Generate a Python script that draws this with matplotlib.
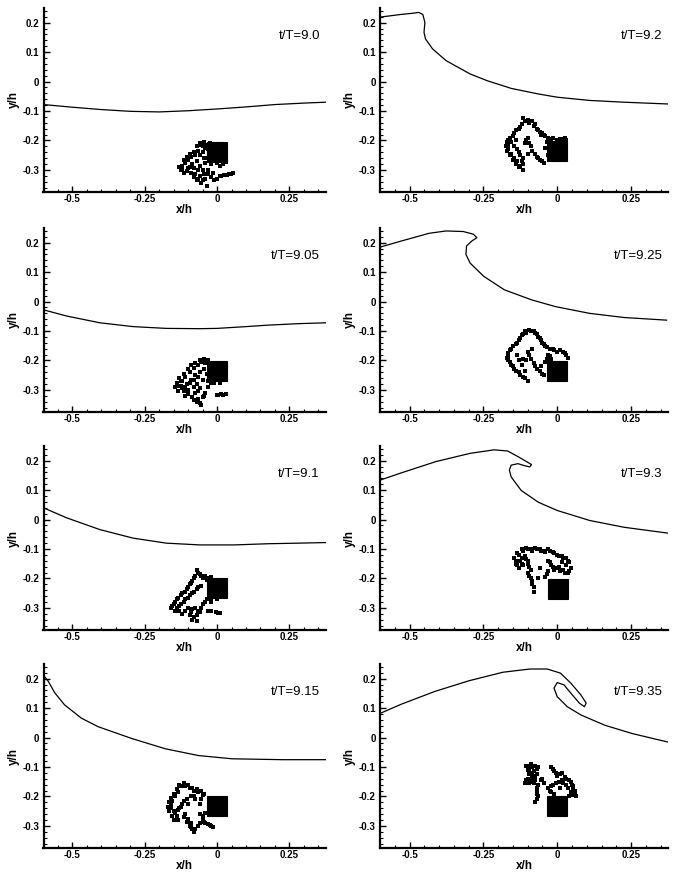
import matplotlib
matplotlib.use("Agg")
import matplotlib.pyplot as plt
from matplotlib.patches import Rectangle
from matplotlib.ticker import MultipleLocator, FuncFormatter

plt.rcParams['font.family'] = ['Liberation Sans', 'DejaVu Sans']

# time labels, in plotting order (left column top->bottom, then right column)
times = ["t/T=9.0", "t/T=9.05", "t/T=9.1", "t/T=9.15",
         "t/T=9.2", "t/T=9.25", "t/T=9.3", "t/T=9.35"]

# free surface
surf_x_900 = [-0.6, -0.5, -0.4, -0.3, -0.2, -0.1, 0.0, 0.1, 0.2, 0.3, 0.375]
surf_y_900 = [-0.078, -0.087, -0.095, -0.101, -0.103, -0.099, -0.093, -0.086, -0.078, -0.073, -0.070]

surf_x_905 = [-0.6, -0.52, -0.405, -0.29, -0.175, -0.06, 0.0, 0.1, 0.175, 0.28, 0.375]
surf_y_905 = [-0.028, -0.049, -0.072, -0.085, -0.091, -0.092, -0.091, -0.085, -0.080, -0.075, -0.072]

surf_x_910 = [-0.6, -0.52, -0.405, -0.29, -0.175, -0.06, 0.06, 0.175, 0.28, 0.375]
surf_y_910 = [0.040, 0.006, -0.034, -0.063, -0.080, -0.086, -0.086, -0.082, -0.080, -0.078]

surf_x_915 = [-0.598, -0.584, -0.561, -0.527, -0.469, -0.411, -0.295, -0.179, -0.064, 0.052, 0.226, 0.375]
surf_y_915 = [0.209, 0.192, 0.152, 0.111, 0.066, 0.037, -0.003, -0.038, -0.061, -0.072, -0.075, -0.075]

surf_x_920 = [-0.6, -0.53, -0.49, -0.469, -0.455, -0.448, -0.451, -0.446, -0.422, -0.376,
              -0.295, -0.237, -0.156, -0.064, 0.0, 0.11, 0.226, 0.375]
surf_y_920 = [0.219, 0.228, 0.232, 0.235, 0.228, 0.201, 0.167, 0.145, 0.111, 0.071,
              0.026, 0.003, -0.023, -0.042, -0.053, -0.064, -0.070, -0.076]

surf_x_925 = [-0.6, -0.527, -0.434, -0.376, -0.318, -0.284, -0.272, -0.289, -0.307, -0.309,
              -0.295, -0.249, -0.179, -0.087, -0.006, 0.11, 0.226, 0.37]
surf_y_925 = [0.185, 0.206, 0.232, 0.240, 0.238, 0.229, 0.217, 0.206, 0.189, 0.160,
              0.131, 0.086, 0.040, 0.006, -0.017, -0.040, -0.054, -0.063]

surf_x_930 = [-0.6, -0.527, -0.411, -0.295, -0.214, -0.168, -0.133, -0.104, -0.087, -0.093,
              -0.110, -0.133, -0.156, -0.162, -0.156, -0.122, -0.064, 0.0, 0.11, 0.226, 0.375]
surf_y_930 = [0.134, 0.159, 0.197, 0.225, 0.237, 0.233, 0.214, 0.197, 0.187, 0.179,
              0.183, 0.190, 0.185, 0.168, 0.145, 0.099, 0.059, 0.031, -0.003, -0.026, -0.046]

surf_x_935 = [-0.6, -0.529, -0.414, -0.299, -0.184, -0.092, -0.034, 0.011, 0.046, 0.080,
              0.098, 0.092, 0.075, 0.046, 0.023, 0.0, -0.011, 0.0, 0.034, 0.080, 0.161, 0.253, 0.374]
surf_y_935 = [0.082, 0.113, 0.157, 0.193, 0.222, 0.233, 0.233, 0.219, 0.185, 0.145,
              0.117, 0.105, 0.117, 0.151, 0.179, 0.187, 0.168, 0.139, 0.105, 0.077, 0.042, 0.014, -0.015]

surf_x = [surf_x_900, surf_x_905, surf_x_910, surf_x_915, surf_x_920, surf_x_925, surf_x_930, surf_x_935]
surf_y = [surf_y_900, surf_y_905, surf_y_910, surf_y_915, surf_y_920, surf_y_925, surf_y_930, surf_y_935]

# cylinder block (center) per panel
block_x = [0.0, 0.0, 0.0, 0.0, 0.0, 0.0, 0.003, 0.0]
block_y = [-0.238, -0.236, -0.232, -0.232, -0.235, -0.235, -0.235, -0.232]
block_half = 0.034

# particle clouds
part_900 = [(-0.06,-0.21),(-0.05,-0.22),(-0.045,-0.205),(-0.035,-0.215),(-0.03,-0.23),(-0.05,-0.24),
            (-0.065,-0.235),(-0.075,-0.25),(-0.09,-0.255),(-0.1,-0.265),(-0.11,-0.275),(-0.12,-0.285),
            (-0.125,-0.3),(-0.115,-0.31),(-0.1,-0.295),(-0.085,-0.28),(-0.07,-0.27),(-0.06,-0.285),
            (-0.05,-0.3),(-0.06,-0.32),(-0.07,-0.335),(-0.055,-0.345),(-0.04,-0.33),(-0.03,-0.315),
            (-0.02,-0.325),(-0.01,-0.335),(-0.09,-0.31),(-0.08,-0.325),(-0.04,-0.275),(-0.02,-0.28),
            (0.0,-0.275),(0.02,-0.28),(0.01,-0.32),(0.025,-0.318),(0.04,-0.315),(0.055,-0.312),(-0.035,-0.355),
            (-0.055,-0.215),(-0.04,-0.225),(-0.025,-0.21),(-0.07,-0.22),(-0.08,-0.24),(-0.095,-0.245),
            (-0.105,-0.255),(-0.115,-0.265),(-0.13,-0.29),(-0.12,-0.3),(-0.105,-0.305),(-0.095,-0.29),
            (-0.08,-0.295),(-0.065,-0.3),(-0.075,-0.315),(-0.065,-0.33),(-0.05,-0.335),(-0.045,-0.315),
            (-0.03,-0.3),(-0.015,-0.31),(0.0,-0.33),(-0.045,-0.26),(-0.03,-0.26),(0.01,-0.285),
            (0.03,-0.272),(0.035,-0.316),(0.048,-0.313),(0.015,-0.322),(-0.06,-0.25)]
part_905 = [(-0.06,-0.2),(-0.045,-0.195),(-0.03,-0.2),(-0.075,-0.21),(-0.09,-0.215),(-0.1,-0.23),
            (-0.115,-0.245),(-0.13,-0.26),(-0.14,-0.275),(-0.145,-0.29),(-0.135,-0.305),(-0.12,-0.295),
            (-0.105,-0.28),(-0.09,-0.265),(-0.075,-0.25),(-0.06,-0.24),(-0.045,-0.23),(-0.07,-0.28),
            (-0.06,-0.295),(-0.075,-0.31),(-0.085,-0.325),(-0.07,-0.34),(-0.055,-0.35),(-0.05,-0.325),
            (-0.04,-0.31),(-0.1,-0.3),(-0.11,-0.32),(-0.03,-0.27),(-0.01,-0.275),(0.01,-0.275),
            (0.0,-0.318),(0.015,-0.315),(0.03,-0.315),(-0.12,-0.27),
            (-0.055,-0.205),(-0.04,-0.21),(-0.065,-0.215),(-0.08,-0.225),(-0.095,-0.24),(-0.11,-0.255),
            (-0.125,-0.27),(-0.135,-0.285),(-0.125,-0.285),(-0.11,-0.29),(-0.095,-0.275),(-0.08,-0.265),
            (-0.065,-0.255),(-0.08,-0.29),(-0.065,-0.305),(-0.08,-0.335),(-0.065,-0.33),(-0.06,-0.345),
            (-0.045,-0.32),(-0.03,-0.29),(-0.02,-0.275),(-0.115,-0.305),(-0.1,-0.315),(0.005,-0.317),
            (0.022,-0.316),(-0.05,-0.265),(-0.035,-0.245)]
part_910 = [(-0.07,-0.17),(-0.06,-0.185),(-0.05,-0.2),(-0.04,-0.19),(-0.03,-0.2),(-0.02,-0.195),
            (-0.08,-0.2),(-0.09,-0.215),(-0.1,-0.23),(-0.11,-0.245),(-0.125,-0.255),(-0.14,-0.27),
            (-0.15,-0.285),(-0.16,-0.3),(-0.145,-0.31),(-0.13,-0.295),(-0.115,-0.28),(-0.1,-0.265),
            (-0.085,-0.25),(-0.07,-0.235),(-0.055,-0.225),(-0.1,-0.3),(-0.09,-0.315),(-0.08,-0.33),
            (-0.07,-0.345),(-0.075,-0.3),(-0.06,-0.315),(-0.05,-0.285),(-0.035,-0.27),(-0.02,-0.265),
            (0.0,-0.27),(-0.02,-0.31),(-0.005,-0.315),(0.01,-0.318),(-0.12,-0.32),
            (-0.065,-0.18),(-0.055,-0.19),(-0.045,-0.2),(-0.075,-0.19),(-0.085,-0.21),(-0.095,-0.22),
            (-0.105,-0.235),(-0.12,-0.25),(-0.135,-0.265),(-0.145,-0.28),(-0.155,-0.295),(-0.14,-0.3),
            (-0.125,-0.285),(-0.11,-0.27),(-0.095,-0.255),(-0.08,-0.245),(-0.065,-0.23),(-0.11,-0.31),
            (-0.095,-0.325),(-0.085,-0.34),(-0.07,-0.325),(-0.065,-0.31),(-0.085,-0.305),(-0.055,-0.3),
            (-0.04,-0.28),(-0.03,-0.31),(0.005,-0.317),(-0.02,-0.28),(-0.13,-0.31),(-0.035,-0.205)]
part_915 = [(-0.13,-0.16),(-0.115,-0.155),(-0.1,-0.16),(-0.085,-0.17),(-0.07,-0.175),(-0.055,-0.18),
            (-0.045,-0.19),(-0.14,-0.175),(-0.15,-0.19),(-0.16,-0.205),(-0.165,-0.22),(-0.17,-0.235),
            (-0.165,-0.25),(-0.155,-0.265),(-0.145,-0.255),(-0.13,-0.24),(-0.12,-0.225),(-0.105,-0.21),
            (-0.09,-0.2),(-0.075,-0.21),(-0.06,-0.225),(-0.11,-0.26),(-0.1,-0.275),(-0.09,-0.29),
            (-0.085,-0.31),(-0.08,-0.32),(-0.065,-0.3),(-0.05,-0.28),(-0.04,-0.29),(-0.03,-0.295),
            (-0.02,-0.3),(-0.06,-0.26),(-0.04,-0.255),(-0.135,-0.28),
            (-0.125,-0.165),(-0.11,-0.165),(-0.095,-0.17),(-0.08,-0.18),(-0.065,-0.185),(-0.05,-0.195),
            (-0.135,-0.185),(-0.145,-0.2),(-0.155,-0.215),(-0.16,-0.23),(-0.16,-0.24),(-0.15,-0.25),
            (-0.14,-0.265),(-0.135,-0.245),(-0.125,-0.235),(-0.115,-0.215),(-0.1,-0.225),(-0.115,-0.27),
            (-0.105,-0.285),(-0.095,-0.3),(-0.09,-0.305),(-0.075,-0.31),(-0.06,-0.29),(-0.045,-0.285),
            (-0.025,-0.298),(-0.015,-0.302),(-0.05,-0.265),(-0.15,-0.28),(-0.08,-0.2),(-0.055,-0.21)]
part_920 = [(-0.115,-0.125),(-0.1,-0.13),(-0.085,-0.135),(-0.075,-0.145),(-0.07,-0.16),(-0.06,-0.17),
            (-0.05,-0.175),(-0.04,-0.185),(-0.03,-0.19),(-0.015,-0.19),(0.0,-0.2),(0.02,-0.195),
            (0.03,-0.2),(-0.12,-0.145),(-0.13,-0.16),(-0.145,-0.175),(-0.16,-0.19),(-0.17,-0.205),
            (-0.175,-0.22),(-0.17,-0.235),(-0.16,-0.25),(-0.15,-0.265),(-0.14,-0.28),(-0.13,-0.29),
            (-0.115,-0.3),(-0.12,-0.27),(-0.125,-0.25),(-0.135,-0.23),(-0.11,-0.21),(-0.1,-0.19),
            (-0.09,-0.22),(-0.075,-0.245),(-0.065,-0.26),(-0.05,-0.27),(-0.04,-0.225),(-0.03,-0.25),(-0.1,-0.245),
            (-0.11,-0.135),(-0.095,-0.14),(-0.08,-0.15),(-0.065,-0.165),(-0.055,-0.18),(-0.045,-0.18),
            (-0.02,-0.195),(0.01,-0.195),(0.025,-0.19),(-0.125,-0.155),(-0.14,-0.165),(-0.15,-0.185),
            (-0.165,-0.2),(-0.165,-0.215),(-0.165,-0.23),(-0.155,-0.245),(-0.145,-0.26),(-0.135,-0.27),
            (-0.125,-0.285),(-0.115,-0.28),(-0.115,-0.26),(-0.13,-0.24),(-0.145,-0.22),(-0.155,-0.205),
            (-0.14,-0.2),(-0.105,-0.2),(-0.095,-0.21),(-0.085,-0.235),(-0.07,-0.255),(-0.06,-0.265),
            (-0.045,-0.275),(-0.035,-0.205)]
part_925 = [(-0.11,-0.1),(-0.095,-0.095),(-0.08,-0.1),(-0.07,-0.11),(-0.06,-0.125),(-0.05,-0.14),
            (-0.04,-0.15),(-0.025,-0.16),(-0.01,-0.165),(0.01,-0.165),(0.025,-0.175),(0.035,-0.19),
            (-0.03,-0.18),(-0.02,-0.195),(-0.04,-0.205),(-0.12,-0.115),(-0.13,-0.13),(-0.14,-0.145),
            (-0.155,-0.16),(-0.165,-0.175),(-0.17,-0.19),(-0.16,-0.205),(-0.15,-0.22),(-0.14,-0.235),
            (-0.125,-0.25),(-0.11,-0.26),(-0.1,-0.27),(-0.12,-0.215),(-0.105,-0.2),(-0.095,-0.18),
            (-0.085,-0.16),(-0.08,-0.21),(-0.07,-0.23),(-0.055,-0.22),(-0.05,-0.245),(-0.135,-0.18),
            (-0.105,-0.105),(-0.09,-0.1),(-0.075,-0.105),(-0.065,-0.12),(-0.055,-0.13),(-0.045,-0.145),
            (-0.035,-0.155),(-0.015,-0.16),(0.0,-0.17),(0.02,-0.17),(0.03,-0.18),(-0.025,-0.185),
            (-0.035,-0.195),(-0.115,-0.11),(-0.125,-0.125),(-0.135,-0.14),(-0.15,-0.15),(-0.16,-0.165),
            (-0.165,-0.185),(-0.165,-0.2),(-0.155,-0.215),(-0.145,-0.23),(-0.13,-0.24),(-0.115,-0.255),
            (-0.11,-0.235),(-0.13,-0.2),(-0.115,-0.195),(-0.1,-0.17),(-0.09,-0.195),(-0.075,-0.22),
            (-0.06,-0.235),(-0.045,-0.25)]
part_930 = [(-0.12,-0.1),(-0.105,-0.095),(-0.09,-0.1),(-0.075,-0.095),(-0.06,-0.1),(-0.045,-0.105),
            (-0.03,-0.1),(-0.015,-0.11),(0.0,-0.12),(0.015,-0.125),(0.03,-0.13),(0.04,-0.145),
            (-0.135,-0.115),(-0.145,-0.13),(-0.14,-0.15),(-0.13,-0.165),(-0.125,-0.14),(-0.11,-0.125),
            (-0.1,-0.14),(-0.095,-0.16),(-0.1,-0.18),(-0.09,-0.2),(-0.085,-0.22),(-0.08,-0.245),
            (-0.115,-0.155),(-0.03,-0.14),(-0.02,-0.155),(-0.01,-0.17),(0.005,-0.16),(0.02,-0.17),
            (0.035,-0.18),(0.045,-0.165),(-0.035,-0.185),(-0.06,-0.165),(-0.065,-0.2),
            (-0.115,-0.105),(-0.1,-0.1),(-0.085,-0.105),(-0.07,-0.1),(-0.055,-0.105),(-0.04,-0.11),
            (-0.025,-0.105),(-0.01,-0.115),(0.005,-0.125),(0.02,-0.13),(0.035,-0.14),(-0.13,-0.12),
            (-0.14,-0.14),(-0.135,-0.155),(-0.12,-0.15),(-0.12,-0.13),(-0.105,-0.135),(-0.1,-0.15),
            (-0.09,-0.17),(-0.095,-0.19),(-0.085,-0.21),(-0.08,-0.23),(-0.025,-0.145),(-0.015,-0.16),
            (0.0,-0.165),(0.01,-0.175),(0.025,-0.18),(0.04,-0.175),(-0.03,-0.175),(-0.04,-0.195),
            (0.03,-0.155),(0.015,-0.145)]
part_935 = [(-0.105,-0.095),(-0.09,-0.09),(-0.075,-0.095),(-0.065,-0.1),(-0.1,-0.11),(-0.095,-0.125),
            (-0.08,-0.115),(-0.07,-0.125),(-0.085,-0.135),(-0.1,-0.14),(-0.11,-0.155),(-0.09,-0.15),
            (-0.075,-0.145),(-0.065,-0.16),(-0.07,-0.18),(-0.065,-0.2),(-0.075,-0.22),(-0.05,-0.14),
            (-0.045,-0.155),(-0.02,-0.1),(-0.01,-0.115),(0.0,-0.13),(0.015,-0.12),(0.03,-0.14),
            (0.045,-0.15),(0.055,-0.165),(0.06,-0.18),(0.05,-0.195),(0.035,-0.17),(0.02,-0.155),
            (0.005,-0.15),(-0.015,-0.16),(-0.03,-0.17),(0.065,-0.2),(-0.02,-0.185),
            (-0.1,-0.095),(-0.085,-0.1),(-0.07,-0.105),(-0.095,-0.115),(-0.085,-0.12),(-0.075,-0.13),
            (-0.09,-0.14),(-0.105,-0.145),(-0.095,-0.155),(-0.08,-0.155),(-0.07,-0.17),(-0.07,-0.19),
            (-0.07,-0.21),(-0.055,-0.145),(-0.015,-0.105),(-0.005,-0.12),(0.01,-0.125),(0.025,-0.135),
            (0.04,-0.145),(0.05,-0.16),(0.055,-0.175),(0.045,-0.185),(0.03,-0.16),(0.015,-0.145),
            (-0.005,-0.155),(-0.02,-0.165),(-0.025,-0.18),(0.06,-0.195),(0.01,-0.17),(0.04,-0.2),(-0.01,-0.19)]
particles = [part_900, part_905, part_910, part_915, part_920, part_925, part_930, part_935]

xticks = [-0.5, -0.25, 0, 0.25]
yticks = [0.2, 0.1, 0, -0.1, -0.2, -0.3]

W, H = 684, 872
fig = plt.figure(figsize=(W/100, H/100), dpi=100)

col_left = [43.5, 380]
col_width = [282, 288]
row_bottom = [192, 412, 630, 848]
ax_h = 184


def fmt(v, pos):
  return "%g" % v


for i in range(8):
  col = i // 4
  row = i % 4
  ax = fig.add_axes([col_left[col]/W, 1 - row_bottom[row]/H, col_width[col]/W, ax_h/H])
  ax.plot(surf_x[i], surf_y[i], color='black', lw=0.9)
  px = [p[0] for p in particles[i]]
  py = [p[1] for p in particles[i]]
  ax.plot(px, py, ls='none', marker='s', ms=2.6, color='black', mew=0)
  ax.add_patch(Rectangle((block_x[i]-block_half, block_y[i]-block_half), 2*block_half, 2*block_half,
                         facecolor='black', edgecolor='black', lw=0.8))
  ax.set_xlim(-0.6, 0.375)
  ax.set_ylim(-0.375, 0.25)
  for s in ['top', 'right']:
    ax.spines[s].set_visible(False)
  for s in ['left', 'bottom']:
    ax.spines[s].set_linewidth(1.6)
  ax.set_xticks(xticks)
  ax.set_yticks(yticks)
  ax.xaxis.set_minor_locator(MultipleLocator(0.05))
  ax.yaxis.set_minor_locator(MultipleLocator(0.02))
  ax.xaxis.set_major_formatter(FuncFormatter(fmt))
  ax.yaxis.set_major_formatter(FuncFormatter(fmt))
  ax.tick_params(which='major', direction='in', length=4, width=1.0, labelsize=7)
  ax.tick_params(axis='x', which='major', pad=1.5)
  ax.tick_params(axis='y', which='major', pad=3)
  ax.tick_params(which='minor', direction='in', length=2, width=0.8)
  for lab in ax.get_xticklabels() + ax.get_yticklabels():
    lab.set_fontweight('bold')
  ax.set_xlabel("x/h", fontsize=8.5, fontweight='bold', labelpad=0)
  ax.set_ylabel("y/h", fontsize=8.5, fontweight='bold', labelpad=2)
  ax.text(0.98, 0.85, times[i], transform=ax.transAxes, ha='right', va='center', fontsize=9.5)

fig.savefig("out.png", dpi=100)
